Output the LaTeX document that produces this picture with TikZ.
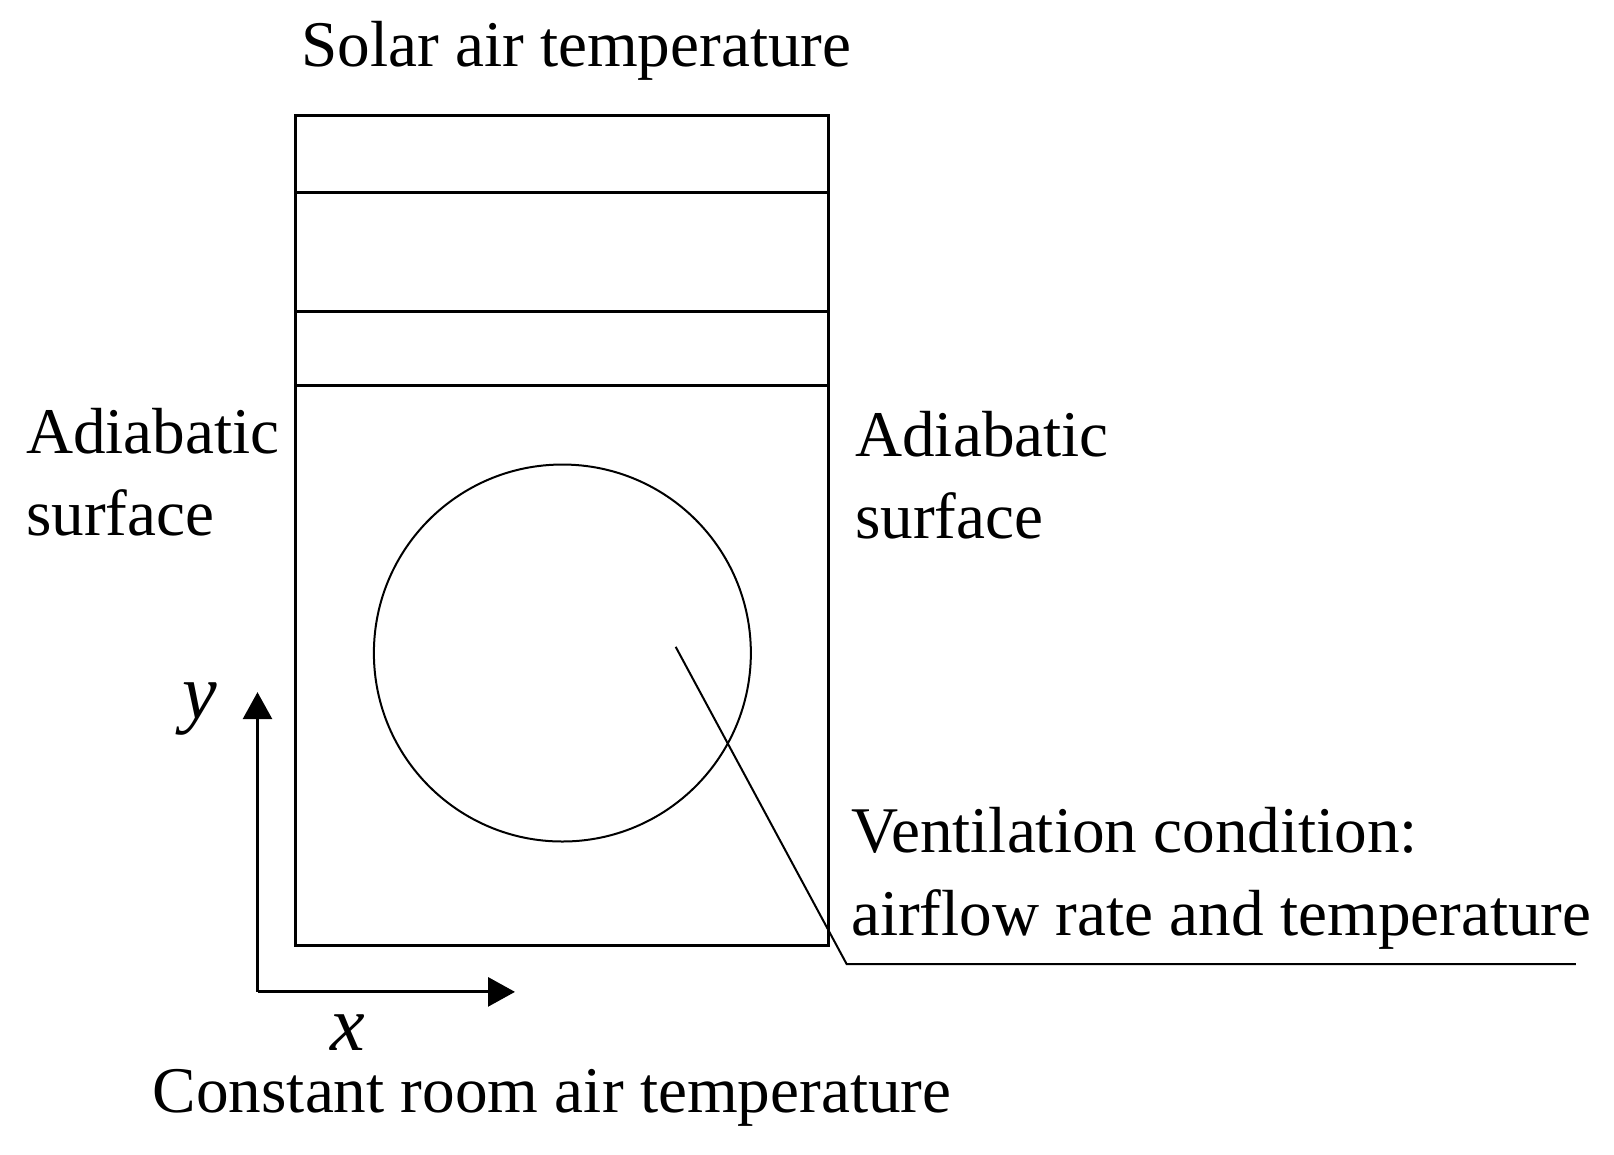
\documentclass[tikz,border=0pt]{standalone}
\usepackage{fontspec}
\setmainfont{Liberation Serif}
\usetikzlibrary{arrows.meta}
\tikzset{
    lbl/.style={inner sep=0pt, anchor=base west, font=\fontsize{32.6}{41.2}\selectfont},
    axlbl/.style={inner sep=0pt, anchor=base west, text depth=0pt, font=\fontsize{39}{45}\selectfont\itshape},
    wall/.style={line width=1.5pt},
    axis/.style={line width=1.5pt, -{Triangle[length=13.5pt,width=14.5pt]}}
}
\begin{document}
\begin{tikzpicture}[x=0.515pt,y=-0.515pt]
                \useasboundingbox (0,0) rectangle (1567,1120.4);

                \draw[wall] (287,112) rectangle (804,918);
                \foreach \h in {187,302,374}
                    \draw[wall] (287,\h) -- (804,\h);
                \draw[line width=1pt] (546,634) circle (183);

                % multi-line labels: base is the last line
                \node[lbl] (solar) at (292,65) {Solar air temperature};
                \node[lbl, align=left] (adiaL) at (25,520) {Adiabatic\\surface};
                \node[lbl, align=left] (adiaR) at (830,523) {Adiabatic\\surface};
                \node[lbl, align=left] (vent) at (826,908) {Ventilation condition:\\airflow rate and temperature};
                \node[lbl] (room) at (148,1080) {Constant room air temperature};

                \coordinate (o) at (250,963);
                \coordinate (ytip) at (250,672);
                \coordinate (xtip) at (500,963);
                \draw[axis] (o) -- (ytip);
                \draw[axis] (o) -- (xtip);
                \node[axlbl] (ylbl) at (177,698) {y};
                \node[axlbl] (xlbl) at (320,1020) {x};

                \coordinate (inlet) at (656,628);
                \coordinate (bend) at (822,936);
                \coordinate (lead) at (1530,936);
                \draw[line width=1pt] (inlet) -- (bend) -- (lead);
            \end{tikzpicture}
\end{document}
